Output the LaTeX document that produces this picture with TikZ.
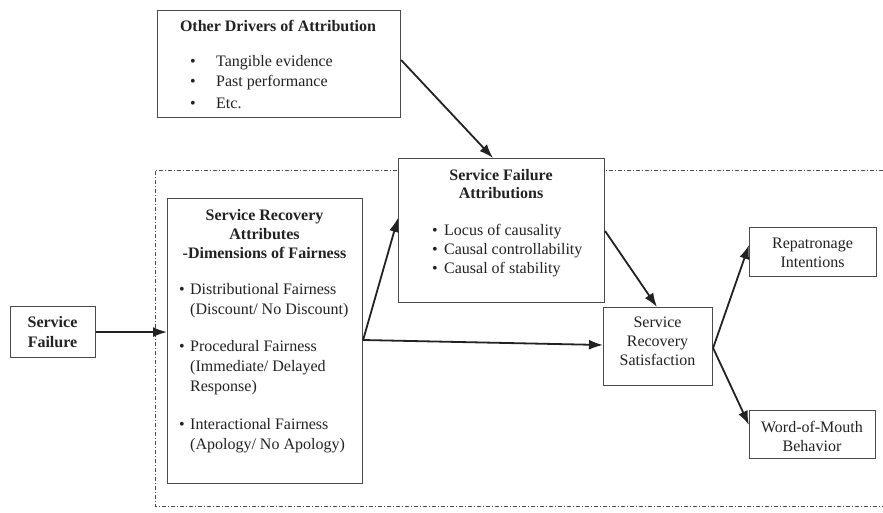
\documentclass[tikz,border=0pt]{standalone}
\usepackage{fontspec}
\setmainfont{Liberation Serif}
\usetikzlibrary{arrows.meta}
\definecolor{boxline}{HTML}{4A4A4A}
\definecolor{ink}{HTML}{222222}
\begin{document}
\begin{tikzpicture}[x=1pt,y=-1pt,
  box/.style={draw=boxline,fill=white,line width=1.1pt,rectangle,anchor=north west,inner sep=0pt},
  txt/.style={inner sep=0pt,text=ink,font=\fontsize{16}{20}\selectfont,align=center},
  ltxt/.style={txt,anchor=west,align=left},
  arr/.style={draw=ink,line width=1.8pt,-{Latex[length=14pt,width=10pt]}},
  frame/.style={draw=boxline,line width=1pt,dash pattern=on 4pt off 2pt on 1pt off 2pt}]
\useasboundingbox (0,0) rectangle (883,512);
% dash-dot frame
\coordinate (ftr) at (883,170);
\coordinate (ftl) at (155,170);
\coordinate (fbl) at (155,506);
\coordinate (fbr) at (883,506);
\draw[frame] (ftr) -- (ftl) -- (fbl) -- (fbr);
% boxes
\node[box,minimum width=243pt,minimum height=107pt] (od) at (157,10) {};
\node[box,minimum width=85pt,minimum height=51pt] (sf) at (10,306) {};
\node[box,minimum width=195pt,minimum height=285pt] (sra) at (167,198) {};
\node[box,minimum width=206pt,minimum height=144pt] (sfa) at (398,158) {};
\node[box,minimum width=109pt,minimum height=78pt] (srs) at (603,307) {};
\node[box,minimum width=127pt,minimum height=49pt] (rep) at (749,227) {};
\node[box,minimum width=126pt,minimum height=48pt] (wom) at (749,410) {};
% texts
\node[txt,font=\fontsize{16}{20}\selectfont\bfseries] (odt) at (278,26) {Other Drivers of Attribution};
\node[ltxt] (od1) at (190,63) {\makebox[26pt][l]{\textbullet}Tangible evidence};
\node[ltxt] (od2) at (190,83) {\makebox[26pt][l]{\textbullet}Past performance};
\node[ltxt] (od3) at (190,103) {\makebox[26pt][l]{\textbullet}Etc.};
\node[txt,font=\fontsize{16}{20}\selectfont\bfseries] (sft) at (52.5,332) {Service\\Failure};
\node[txt,font=\fontsize{16}{19}\selectfont\bfseries] (srat) at (264.5,234) {Service Recovery\\Attributes\\-Dimensions of Fairness};
\node[ltxt,anchor=north west] (sra1) at (179,283) {\makebox[11pt][l]{\textbullet}Distributional Fairness\\\hspace*{11pt}(Discount/ No Discount)};
\node[ltxt,anchor=north west] (sra2) at (179,340) {\makebox[11pt][l]{\textbullet}Procedural Fairness\\\hspace*{11pt}(Immediate/ Delayed\\\hspace*{11pt}Response)};
\node[ltxt,anchor=north west] (sra3) at (179,418) {\makebox[11pt][l]{\textbullet}Interactional Fairness\\\hspace*{11pt}(Apology/ No Apology)};
\node[txt,font=\fontsize{16}{18}\selectfont\bfseries] (sfat) at (501,184) {Service Failure\\Attributions};
\node[ltxt] (sfa1) at (432,232) {\makebox[12pt][l]{\textbullet}Locus of causality};
\node[ltxt] (sfa2) at (432,251) {\makebox[12pt][l]{\textbullet}Causal controllability};
\node[ltxt] (sfa3) at (432,270) {\makebox[12pt][l]{\textbullet}Causal of stability};
\node[txt,font=\fontsize{16}{19}\selectfont] (srst) at (657.5,341) {Service\\Recovery\\Satisfaction};
\node[txt,font=\fontsize{16}{19}\selectfont] (rept) at (812.5,253) {Repatronage\\Intentions};
\node[txt,font=\fontsize{16}{19}\selectfont] (womt) at (812,436) {Word-of-Mouth\\Behavior};
% connectors
\coordinate (c1) at (0,60);
\coordinate (c2) at (493,0);
\coordinate (c3) at (0,340);
\coordinate (c4) at (0,218);
\coordinate (c5) at (0,345);
\coordinate (c6) at (0,231);
\coordinate (c7) at (657,0);
\coordinate (c8) at (0,348);
\coordinate (c9) at (0,245);
\coordinate (c10) at (0,425);
\draw[arr] (od.east |- c1) -- (sfa.north -| c2);
\draw[arr] (sf.east) -- (sra.west |- sf.east);
\draw[arr] (sra.east |- c3) -- (sfa.west |- c4);
\draw[arr] (sra.east |- c3) -- (srs.west |- c5);
\draw[arr] (sfa.east |- c6) -- (srs.north -| c7);
\draw[arr] (srs.east |- c8) -- (rep.west |- c9);
\draw[arr] (srs.east |- c8) -- (wom.west |- c10);
\end{tikzpicture}
\end{document}
